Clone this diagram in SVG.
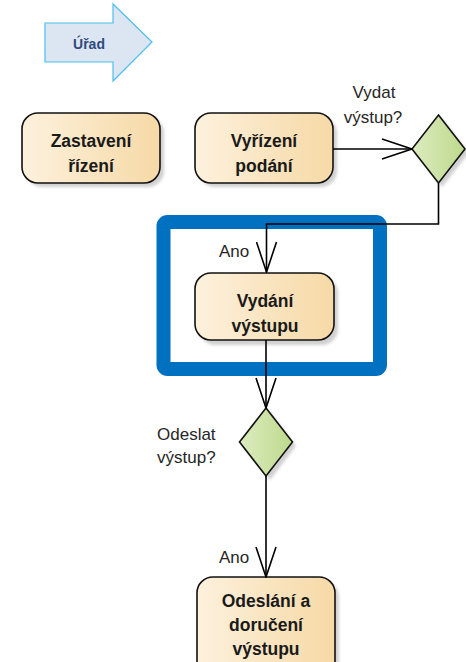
<svg xmlns="http://www.w3.org/2000/svg" width="466" height="662" viewBox="0 0 466 662">
  <defs>
    <linearGradient id="actFill" x1="0" y1="0" x2="1" y2="0">
      <stop offset="0" stop-color="#fdf1dd"/>
      <stop offset="1" stop-color="#f6d9a6"/>
    </linearGradient>
    <linearGradient id="decFill" x1="0" y1="0" x2="1" y2="0">
      <stop offset="0" stop-color="#dcecc0"/>
      <stop offset="1" stop-color="#bed98c"/>
    </linearGradient>
    <filter id="soft" x="-20%" y="-20%" width="140%" height="140%">
      <feGaussianBlur stdDeviation="1.5"/>
    </filter>
    <marker id="open" viewBox="0 0 32 22" refX="31" refY="11" markerWidth="32" markerHeight="22" markerUnits="userSpaceOnUse" orient="auto">
      <path d="M1,1 L31,11 L1,21" fill="none" stroke="#000" stroke-width="1.6"/>
    </marker>
  </defs>
  <style>
    .act { fill: url(#actFill); stroke: #111; stroke-width: 1.6; }
    .dec { fill: url(#decFill); stroke: #111; stroke-width: 1.6; }
    .shadow { fill: #bdbdbd; opacity: 0.7; filter: url(#soft); }
    .title { font-family: "Liberation Sans", Arial, sans-serif; font-weight: bold; font-size: 17.5px; fill: #1a1a1a; text-anchor: middle; }
    .label { font-family: "Liberation Sans", Arial, sans-serif; font-size: 17px; fill: #262626; }
    .wire { fill: none; stroke: #000; stroke-width: 1.6; }
  </style>

  <rect width="466" height="662" fill="#ffffff"/>

  <!-- swimlane heading arrow -->
  <g id="urad">
    <polygon points="45,23 113,23 113,4 152,42 113,81 113,62 45,62" fill="#dce6f2" stroke="#4dbfee" stroke-width="1.2"/>
    <text x="89" y="49" text-anchor="middle" font-family="Liberation Sans, Arial, sans-serif" font-weight="bold" font-size="14px" fill="#2f4a7c">Úřad</text>
  </g>

  <!-- highlight frame -->
  <g id="highlight">
    <rect x="163.5" y="222" width="216.5" height="147" rx="4" fill="none" stroke="#0070c0" stroke-width="14"/>
  </g>

  <g id="zastaveni">
    <rect class="shadow" x="26" y="117" width="138" height="70" rx="16"/>
    <rect class="act" x="22" y="113" width="138" height="70" rx="16"/>
    <text class="title" x="91" y="147">Zastavení</text>
    <text class="title" x="91" y="172">řízení</text>
  </g>

  <g id="vyrizeni">
    <rect class="shadow" x="199" y="117" width="138" height="70" rx="16"/>
    <rect class="act" x="195" y="113" width="138" height="70" rx="16"/>
    <text class="title" x="264" y="147">Vyřízení</text>
    <text class="title" x="264" y="172">podání</text>
  </g>

  <g id="vydat">
    <polygon class="shadow" points="442,119 469,153 442,187 415,153"/>
    <polygon class="dec" points="438.5,115 465,149 438.5,183 412,149"/>
    <text class="label" x="374" y="98" text-anchor="middle">Vydat</text>
    <text class="label" x="373" y="123" text-anchor="middle">výstup?</text>
  </g>

  <g id="vydani">
    <rect class="shadow" x="199" y="277" width="139" height="68" rx="16"/>
    <rect class="act" x="195" y="273" width="139" height="67" rx="16"/>
    <text class="title" x="265" y="307">Vydání</text>
    <text class="title" x="265" y="332">výstupu</text>
  </g>

  <g id="odeslat">
    <polygon class="shadow" points="270,412 296,446 270,480 243,446"/>
    <polygon class="dec" points="266,408 292.5,442 266,476 239.5,442"/>
    <text class="label" x="157" y="440">Odeslat</text>
    <text class="label" x="157" y="463">výstup?</text>
  </g>

  <g id="odeslani">
    <rect class="shadow" x="201" y="581" width="138" height="100" rx="16"/>
    <rect class="act" x="197" y="577" width="138" height="100" rx="16"/>
    <text class="title" x="266" y="607">Odeslání a</text>
    <text class="title" x="266" y="631">doručení</text>
    <text class="title" x="266" y="655">výstupu</text>
  </g>

  <g id="connectors">
    <path class="wire" d="M333,149 L412,149" marker-end="url(#open)"/>
    <path class="wire" d="M438.5,183 L438.5,224 L266.5,224 L266.5,272" marker-end="url(#open)"/>
    <text class="label" x="219" y="257">Ano</text>
    <path class="wire" d="M266,340 L266,408" marker-end="url(#open)"/>
    <path class="wire" d="M266,476 L266,577" marker-end="url(#open)"/>
    <text class="label" x="219" y="563">Ano</text>
  </g>
</svg>
